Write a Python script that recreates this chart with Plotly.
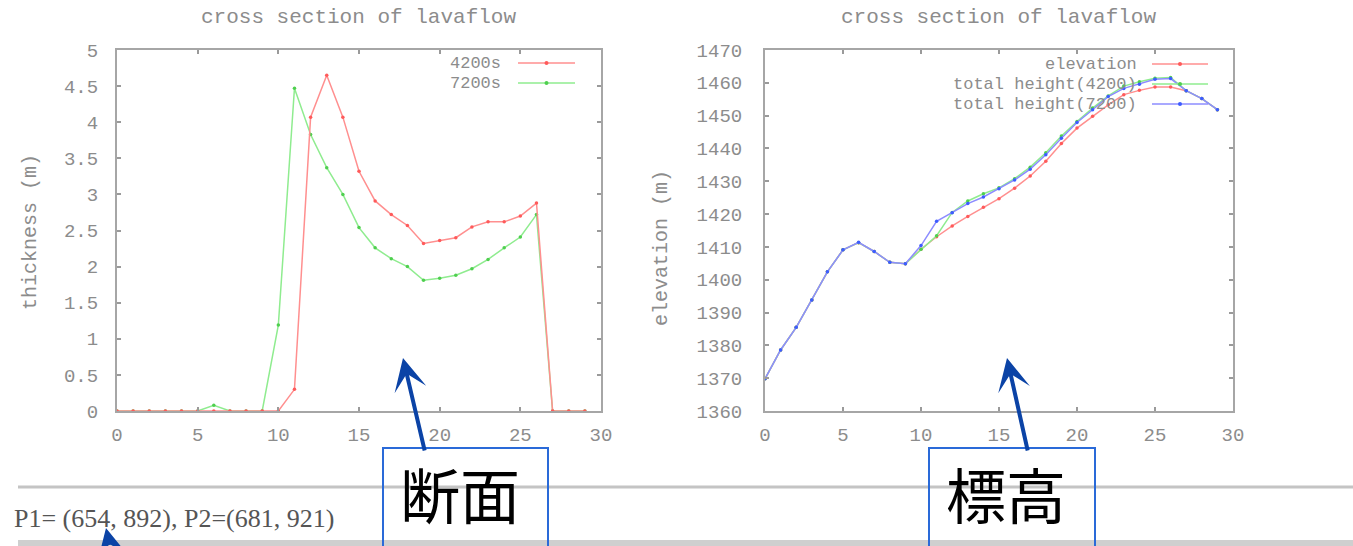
import plotly.graph_objects as go

# ---- data ---------------------------------------------------------------
distance = list(range(30))

thickness_4200 = [0, 0, 0, 0, 0, 0, 0, 0, 0, 0,
                  0, 0.30, 4.07, 4.65, 4.07, 3.32, 2.91, 2.72, 2.57, 2.32,
                  2.36, 2.40, 2.55, 2.62, 2.62, 2.70, 2.88, 0, 0, 0]
thickness_7200 = [0, 0, 0, 0, 0, 0, 0.08, 0, 0, 0,
                  1.19, 4.47, 3.83, 3.37, 3.00, 2.54, 2.26, 2.11, 2.00, 1.81,
                  1.84, 1.88, 1.97, 2.10, 2.26, 2.41, 2.72, 0, 0, 0]

elevation = [1369.8, 1378.6, 1385.5, 1393.8, 1402.4, 1409.1, 1411.3, 1408.6, 1405.3, 1404.9,
             1409.3, 1413.1, 1416.4, 1419.3, 1422.1, 1424.7, 1427.9, 1431.6, 1436.1, 1441.5,
             1446.2, 1449.8, 1453.3, 1456.4, 1457.7, 1458.7, 1458.7, 1457.6, 1455.2, 1451.8]
total_4200 = [1369.8, 1378.6, 1385.5, 1393.8, 1402.4, 1409.1, 1411.3, 1408.6, 1405.3, 1404.9,
              1409.3, 1413.4, 1420.5, 1424.0, 1426.2, 1428.0, 1430.8, 1434.3, 1438.7, 1443.8,
              1448.2, 1452.3, 1456.0, 1459.0, 1460.3, 1461.4, 1461.6, 1457.6, 1455.2, 1451.8]
total_7200 = [1369.8, 1378.6, 1385.5, 1393.8, 1402.4, 1409.1, 1411.4, 1408.6, 1405.3, 1404.9,
              1410.4, 1417.8, 1420.4, 1423.2, 1425.2, 1427.7, 1430.4, 1433.7, 1438.1, 1443.1,
              1447.9, 1451.8, 1455.8, 1458.3, 1459.6, 1461.1, 1461.3, 1457.6, 1455.2, 1451.8]

chart_title = "cross section of lavaflow"
left_labels = ["4200s", "7200s"]
right_labels = ["elevation", "total height(4200)", "total height(7200)"]
coord_text = "P1= (654, 892), P2=(681, 921)"
box_labels = ["断面", "標高"]

# ---- page geometry ------------------------------------------------------
W, H = 1353, 546


def px(x):
    return x / W


def py(y):
    return 1 - y / H


RED_LINE, RED_PT = "#ff8f8f", "#ff5a5a"
GREEN_LINE, GREEN_PT = "#8fec8f", "#4fcf4f"
BLUE_LINE, BLUE_PT = "#8c8cff", "#3d5cff"
GRAY_TXT = "#8c8c8c"
MONO = "Liberation Mono, DejaVu Sans Mono, monospace"
ARROW = "#0b43a6"
BOX = "#2a6ad8"

fig = go.Figure()


def series(x, y, color, pt, xa, ya, name):
    fig.add_trace(go.Scatter(
        x=x, y=y, mode="lines+markers", name=name, xaxis=xa, yaxis=ya,
        line=dict(color=color, width=1.5),
        marker=dict(color=pt, size=3.5, symbol="circle"),
        showlegend=False, hoverinfo="x+y+name"))


series(distance, thickness_7200, GREEN_LINE, GREEN_PT, "x", "y", left_labels[1])
series(distance, thickness_4200, RED_LINE, RED_PT, "x", "y", left_labels[0])
series(distance, elevation, RED_LINE, RED_PT, "x2", "y2", right_labels[0])
series(distance, total_4200, GREEN_LINE, GREEN_PT, "x2", "y2", right_labels[1])
series(distance, total_7200, BLUE_LINE, BLUE_PT, "x2", "y2", right_labels[2])

axis_common = dict(
    showline=True, linecolor="#a6a6a6", linewidth=2, mirror="allticks",
    ticks="inside", ticklen=4, tickwidth=1.5, tickcolor="#9a9a9a",
    showgrid=False, zeroline=False, automargin=False,
    tickfont=dict(family=MONO, size=19, color=GRAY_TXT),
)

fig.update_layout(
    width=W, height=H,
    margin=dict(l=0, r=0, t=0, b=0, autoexpand=False),
    paper_bgcolor="white", plot_bgcolor="white",
    xaxis=dict(domain=[px(117), px(601)], range=[0, 30], dtick=5,
               anchor="y", ticklabelstandoff=5, **axis_common),
    yaxis=dict(domain=[py(411), py(50)], range=[0, 5], dtick=0.5,
               anchor="x", ticklabelstandoff=13, **axis_common),
    xaxis2=dict(domain=[px(765), px(1233)], range=[0, 30], dtick=5,
                anchor="y2", ticklabelstandoff=5, **axis_common),
    yaxis2=dict(domain=[py(411), py(50)], range=[1360, 1470], dtick=10,
                anchor="x2", ticklabelstandoff=17, **axis_common),
)

annotations = []
shapes = []


def label(x, y, text, font, xanchor="center", yanchor="middle", angle=0):
    annotations.append(dict(x=px(x), y=py(y), xref="paper", yref="paper",
                            text=text, showarrow=False, textangle=angle,
                            xanchor=xanchor, yanchor=yanchor, font=font))


# chart titles and axis titles
for cx in (358, 998):
    label(cx, 18, chart_title, dict(family=MONO, size=21, color=GRAY_TXT))
label(30, 232, "thickness (m)", dict(family=MONO, size=20, color=GRAY_TXT), angle=-90)
label(662, 248, "elevation (m)", dict(family=MONO, size=20, color=GRAY_TXT), angle=-90)


# key entries: label right-aligned, sample line with a point in its middle
def key_entry(text, text_right, y, x0, x1, line_color, pt_color):
    label(text_right, y, text, dict(family=MONO, size=17, color=GRAY_TXT), xanchor="right")
    shapes.append(dict(type="line", xref="paper", yref="paper",
                       x0=px(x0), x1=px(x1), y0=py(y), y1=py(y),
                       line=dict(color=line_color, width=1.5)))
    xm = (x0 + x1) / 2
    shapes.append(dict(type="circle", xref="paper", yref="paper",
                       x0=px(xm - 2), x1=px(xm + 2), y0=py(y + 2), y1=py(y - 2),
                       line=dict(width=0), fillcolor=pt_color))


key_entry(left_labels[0], 503, 63, 518, 575, RED_LINE, RED_PT)
key_entry(left_labels[1], 503, 83, 518, 575, GREEN_LINE, GREEN_PT)
key_entry(right_labels[0], 1139, 64, 1152, 1208, RED_LINE, RED_PT)
key_entry(right_labels[1], 1139, 84, 1152, 1208, GREEN_LINE, GREEN_PT)
key_entry(right_labels[2], 1139, 104, 1152, 1208, BLUE_LINE, BLUE_PT)

# page rules below the charts
shapes.append(dict(type="line", xref="paper", yref="paper",
                   x0=px(18), x1=1, y0=py(487), y1=py(487),
                   line=dict(color="#c4c4c4", width=3)))
shapes.append(dict(type="rect", xref="paper", yref="paper",
                   x0=px(18), x1=1, y0=py(546), y1=py(540),
                   line=dict(width=0), fillcolor="#cfcfcf"))

label(12, 518, coord_text,
      dict(family="Liberation Serif, Times New Roman, serif", size=26, color="#555555"),
      xanchor="left")

# labelled boxes
for (bx0, bx1, cx), text in zip(((383, 548, 460), (929, 1095, 1006)), box_labels):
    shapes.append(dict(type="rect", xref="paper", yref="paper",
                       x0=px(bx0), x1=px(bx1), y0=py(560), y1=py(448),
                       line=dict(color=BOX, width=2)))
    label(cx, 492, text, dict(family="Noto Sans CJK JP", size=60, color="black"))

# pointer arrows
for tip, tail in (((403, 358), (425, 452)), ((1007, 358), (1028, 452)), ((106, 528), (110, 575))):
    annotations.append(dict(x=px(tip[0]), y=py(tip[1]), xref="paper", yref="paper",
                            ax=tail[0] - tip[0], ay=tail[1] - tip[1],
                            axref="pixel", ayref="pixel", text="",
                            showarrow=True, arrowhead=3, arrowsize=1.35,
                            arrowwidth=4, arrowcolor=ARROW, standoff=0))

fig.update_layout(annotations=annotations, shapes=shapes)

# the page itself carries no body margin, so the figure sits at the window origin
fig.write_html("out.html",
               post_script="document.body.style.margin='0';"
                           "document.body.style.overflow='hidden';")
